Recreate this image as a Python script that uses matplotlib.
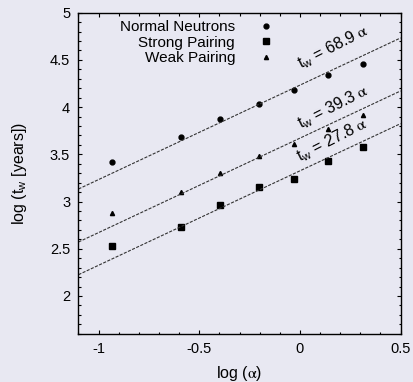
import matplotlib
matplotlib.use("Agg")
from matplotlib import pyplot as plt
import numpy as np

plt.rcParams['font.family'] = ['Liberation Sans', 'DejaVu Sans']
plt.rcParams['mathtext.fontset'] = 'stix'

# log(alpha) positions shared by all three series
log_alpha = [-0.932, -0.592, -0.395, -0.202, -0.030, 0.138, 0.312]

normal = [3.415, 3.683, 3.870, 4.029, 4.181, 4.340, 4.453]
strong = [2.526, 2.727, 2.960, 3.150, 3.235, 3.426, 3.574]
weak = [2.882, 3.104, 3.306, 3.486, 3.609, 3.772, 3.916]

# fitted coefficients of t_w = C * alpha
coeffs = [68.9, 39.3, 27.8]
label_pos = [(0.165, 4.635), (0.165, 4.005), (0.160, 3.655)]

bg = '#e8e8f2'
fig = plt.figure(figsize=(4.13, 3.82), dpi=100, facecolor=bg)
ax = fig.add_axes([0.190, 0.1264, 0.780, 0.8404], facecolor=bg)

ax.plot(log_alpha, normal, 'o', color='black', markersize=3.5, label='Normal Neutrons')
ax.plot(log_alpha, strong, 's', color='black', markersize=3.7, label='Strong Pairing')
ax.plot(log_alpha, weak, '^', color='black', markersize=3.0, label='Weak Pairing')

xs = np.array([-1.1, 0.5])
for c, (tx, ty) in zip(coeffs, label_pos):
    ax.plot(xs, np.log(c) + xs, color='#333333', linewidth=0.8,
            linestyle=(0, (2.8, 1.3)))
    ax.text(tx, ty, r'$\mathregular{t_w}$ = %.1f $\mathrm{\alpha}$' % c, fontsize=11.5,
            rotation=27, rotation_mode='anchor', ha='center', va='center')

ax.set_xlim(-1.1, 0.5)
ax.set_ylim(1.6, 5)
ax.set_xticks([-1, -0.5, 0, 0.5])
ax.set_xticklabels(['-1', '-0.5', '0', '0.5'])
ax.set_yticks([2, 2.5, 3, 3.5, 4, 4.5, 5])
ax.set_yticklabels(['2', '2.5', '3', '3.5', '4', '4.5', '5'])
ax.set_xticks(np.arange(-1.1, 0.51, 0.1), minor=True)
ax.set_yticks(np.arange(1.6, 5.01, 0.1), minor=True)
ax.tick_params(which='both', direction='in', top=True, right=True, labelsize=10.5)
ax.tick_params(which='major', length=3, width=0.8, pad=6)
ax.tick_params(which='minor', length=1.8, width=0.8)
for s in ax.spines.values():
    s.set_linewidth(1.0)

ax.set_xlabel(r'log ($\mathrm{\alpha}$)', fontsize=11.5, labelpad=6)
ax.set_ylabel(r'log ($\mathregular{t_w}$ [years])', fontsize=11.5, labelpad=15)

ax.legend(loc='upper right', bbox_to_anchor=(0.607, 0.977), frameon=False,
          markerfirst=False, numpoints=1, handlelength=1.0, handletextpad=1.55,
          labelspacing=0.1, borderpad=0, borderaxespad=0, fontsize=11)

plt.savefig('out.png', dpi=100, facecolor=bg)
